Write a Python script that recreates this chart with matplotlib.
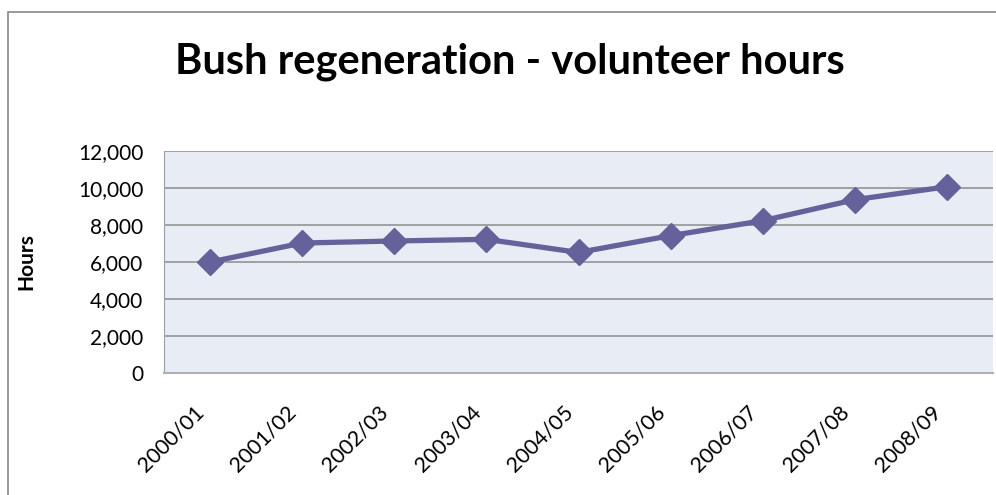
import numpy as np
import matplotlib.pyplot as plt
import matplotlib.transforms as mtransforms
from matplotlib.patches import Rectangle
from matplotlib.ticker import FuncFormatter

seasons = ['2000/01', '2001/02', '2002/03', '2003/04', '2004/05',
           '2005/06', '2006/07', '2007/08', '2008/09']
hours = [6000, 7030, 7140, 7230, 6520, 7430, 8240, 9380, 10080]
yticks = [0, 2000, 4000, 6000, 8000, 10000, 12000]

line_col = '#65629b'
plt.rcParams['font.family'] = ['Lato', 'DejaVu Sans']

fig = plt.figure(figsize=(9.96, 4.95), dpi=100)
# outer chart border
fig.patches.append(Rectangle((8 / 996, -0.1), 1.2, 1 - 12 / 495 + 0.1,
                             transform=fig.transFigure, fill=False,
                             edgecolor='#888888', linewidth=1.2))

ax = fig.add_axes([0.1647, 0.247, 0.8323, 0.4473])
ax.set_facecolor('#e8ecf4')

x = np.arange(len(seasons))
ax.plot(x, hours, color=line_col, linewidth=3.8, marker='D',
        markersize=13.5, zorder=3)

ax.set_xlim(-0.5, len(seasons) - 0.5)
ax.set_ylim(0, 12000)
ax.set_yticks(yticks)
ax.yaxis.set_major_formatter(FuncFormatter(lambda v, p: f'{int(v):,}'))
ax.grid(axis='y', color='#8c8c8c', linewidth=1.1)
ax.set_axisbelow(True)

ax.set_xticks(x)
ax.set_xticklabels(seasons, rotation=45, ha='right', rotation_mode='anchor')
ax.tick_params(axis='x', length=0, pad=21, labelsize=15.5)
ax.tick_params(axis='y', length=0, pad=15, labelsize=15)
shift = mtransforms.ScaledTranslation(-16 / 100, 0, fig.dpi_scale_trans)
for lab in ax.get_xticklabels():
    lab.set_transform(lab.get_transform() + shift)

for s in ['top', 'right']:
    ax.spines[s].set_visible(False)
ax.spines['left'].set_color('#a0a0a0')
ax.spines['bottom'].set_color('#b0b0b0')
ax.spines['bottom'].set_linewidth(1.5)

ax.set_ylabel('Hours', fontsize=15, fontweight='bold', labelpad=30)

fig.text(0.512, 0.875, 'Bush regeneration - volunteer hours',
         ha='center', va='center', fontsize=30, fontweight='bold')

plt.savefig('out.png', dpi=100)
